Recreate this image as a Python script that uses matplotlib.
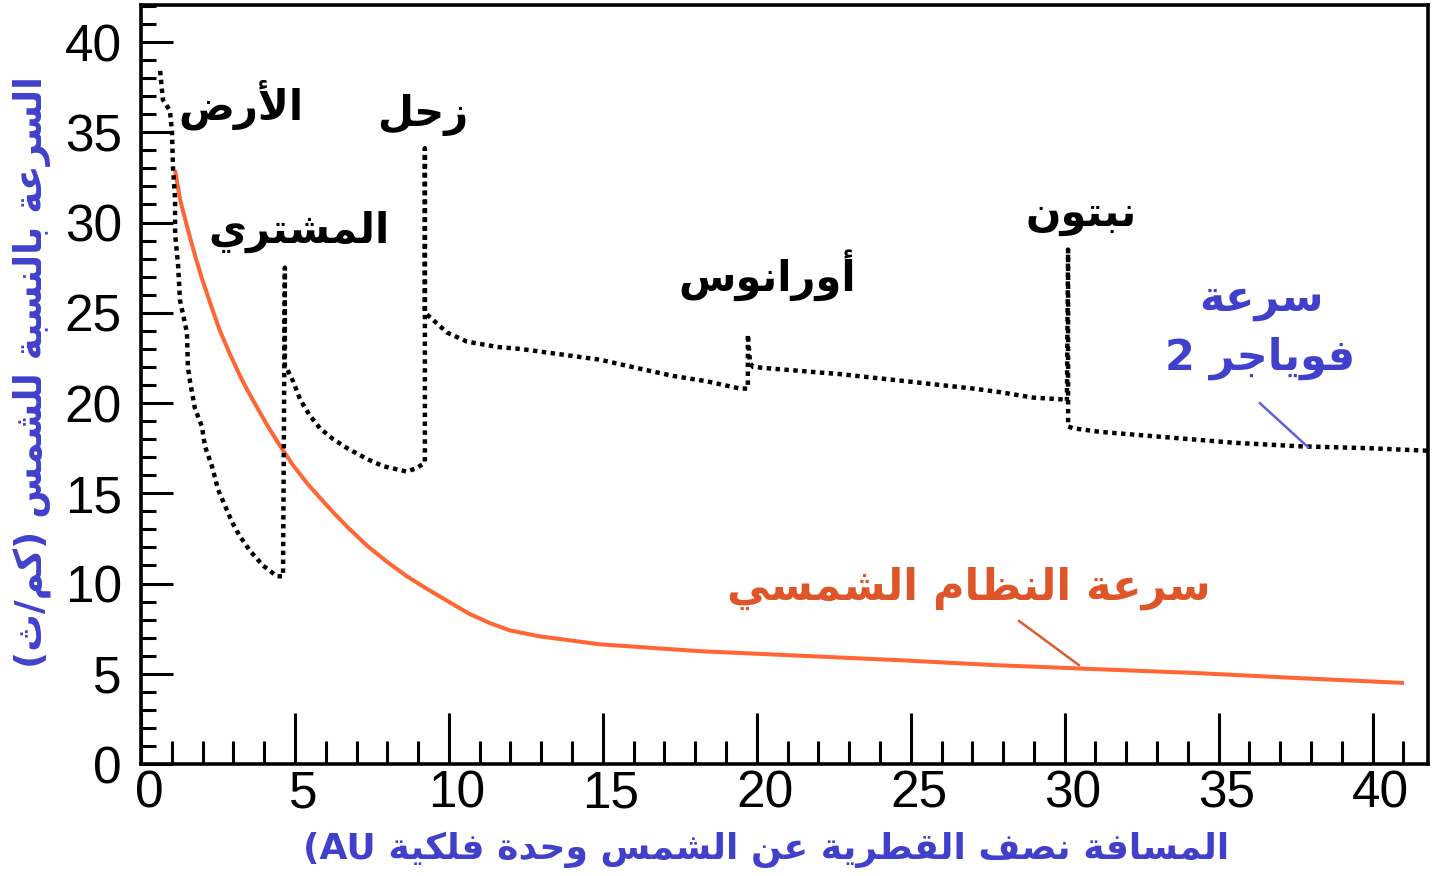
import matplotlib
matplotlib.use("Agg")
import matplotlib.pyplot as plt
from matplotlib.ticker import MultipleLocator, FixedLocator
import matplotlib.transforms as mtransforms

# ---------------- data ----------------
voyager_x = [0.621, 0.710, 0.938, 1.008, 1.037, 1.107, 1.107, 1.206, 1.265, 1.493, 1.523, 1.592, 1.751,
             1.978, 2.077, 2.305, 2.503, 2.731, 2.959, 3.217, 3.543, 3.960, 4.415, 4.613,
             4.673, 4.673, 4.742, 4.940, 5.168, 5.485, 5.812, 6.238, 6.693, 7.337, 7.862, 8.635, 8.962, 9.220,
             9.220, 9.220, 9.487, 9.943, 10.587, 11.597, 12.310, 14.906, 16.203, 17.283, 18.383, 19.452, 19.710,
             19.710, 19.780, 19.879, 20.523, 22.702, 24.881, 27.021, 27.902, 28.972, 29.943, 30.072,
             30.111, 30.111, 30.270, 31.151, 33.321, 35.471, 37.640, 39.819, 41.870]
voyager_y = [38.4, 36.8, 36.2, 35.0, 33.1, 31.3, 29.4, 27.6, 25.7, 23.9, 22.0, 21.2, 19.7,
             18.7, 17.6, 16.5, 15.2, 14.3, 13.4, 12.6, 11.8, 11.0, 10.4, 10.4,
             27.5, 22.0, 21.9, 21.2, 20.2, 19.3, 18.6, 18.0, 17.5, 16.9, 16.5, 16.2, 16.4, 16.7,
             34.1, 25.0, 24.6, 23.9, 23.4, 23.1, 23.0, 22.4, 21.9, 21.5, 21.2, 20.8, 20.8,
             23.8, 22.2, 22.0, 21.9, 21.6, 21.2, 20.8, 20.6, 20.3, 20.2, 20.1,
             28.5, 18.7, 18.6, 18.4, 18.1, 17.8, 17.6, 17.5, 17.35]

solar_x = [1.107, 1.265, 1.493, 1.651, 1.820, 1.978, 2.176, 2.335, 2.563, 2.890, 3.217, 3.444,
           3.771, 4.088, 4.415, 4.613, 4.940, 5.396, 5.812, 6.238, 6.693, 7.337, 7.991, 8.635,
           9.289, 10.032, 10.686, 11.340, 11.983, 12.954, 13.935, 14.906, 18.155, 21.404,
           24.653, 27.70, 30.95, 34.26, 37.58, 41.02]
solar_y = [32.9, 31.3, 29.8, 28.8, 27.8, 26.9, 25.9, 25.1, 24.0, 22.7, 21.5, 20.75,
           19.75, 18.8, 17.9, 17.38, 16.55, 15.55, 14.75, 13.95, 13.15, 12.1, 11.2, 10.4,
           9.7, 8.95, 8.3, 7.8, 7.4, 7.07, 6.85, 6.63, 6.25, 6.0,
           5.75, 5.48, 5.26, 5.04, 4.76, 4.49]

x_ticks = [0, 5, 10, 15, 20, 25, 30, 35, 40]
y_ticks = [0, 5, 10, 15, 20, 25, 30, 35, 40]

planet_names = ["الأرض", "المشتري", "زحل", "أورانوس", "نبتون"]
voyager_label_1 = "سرعة"
voyager_label_2 = "فوياجر"
solar_label = "سرعة النظام الشمسي"
ylabel_text = "السرعة بالنسبة للشمس (كم/ث)"
xlabel_main = "المسافة نصف القطرية عن الشمس"
xlabel_unit_1 = "وحدة"
xlabel_unit_2 = "فلكية"

# ---------------- Arabic shaping (presentation forms, visual order) ----------------
_F = {
    '\u0627': ('\uFE8D', '\uFE8E', None, None),
    '\u0623': ('\uFE83', '\uFE84', None, None),
    '\u0628': ('\uFE8F', '\uFE90', '\uFE91', '\uFE92'),
    '\u0629': ('\uFE93', '\uFE94', None, None),
    '\u062A': ('\uFE95', '\uFE96', '\uFE97', '\uFE98'),
    '\u062B': ('\uFE99', '\uFE9A', '\uFE9B', '\uFE9C'),
    '\u062C': ('\uFE9D', '\uFE9E', '\uFE9F', '\uFEA0'),
    '\u062D': ('\uFEA1', '\uFEA2', '\uFEA3', '\uFEA4'),
    '\u062F': ('\uFEA9', '\uFEAA', None, None),
    '\u0631': ('\uFEAD', '\uFEAE', None, None),
    '\u0632': ('\uFEAF', '\uFEB0', None, None),
    '\u0633': ('\uFEB1', '\uFEB2', '\uFEB3', '\uFEB4'),
    '\u0634': ('\uFEB5', '\uFEB6', '\uFEB7', '\uFEB8'),
    '\u0635': ('\uFEB9', '\uFEBA', '\uFEBB', '\uFEBC'),
    '\u0636': ('\uFEBD', '\uFEBE', '\uFEBF', '\uFEC0'),
    '\u0637': ('\uFEC1', '\uFEC2', '\uFEC3', '\uFEC4'),
    '\u0638': ('\uFEC5', '\uFEC6', '\uFEC7', '\uFEC8'),
    '\u0639': ('\uFEC9', '\uFECA', '\uFECB', '\uFECC'),
    '\u0641': ('\uFED1', '\uFED2', '\uFED3', '\uFED4'),
    '\u0642': ('\uFED5', '\uFED6', '\uFED7', '\uFED8'),
    '\u0643': ('\uFED9', '\uFEDA', '\uFEDB', '\uFEDC'),
    '\u0644': ('\uFEDD', '\uFEDE', '\uFEDF', '\uFEE0'),
    '\u0645': ('\uFEE1', '\uFEE2', '\uFEE3', '\uFEE4'),
    '\u0646': ('\uFEE5', '\uFEE6', '\uFEE7', '\uFEE8'),
    '\u0648': ('\uFEED', '\uFEEE', None, None),
    '\u064A': ('\uFEF1', '\uFEF2', '\uFEF3', '\uFEF4'),
}
_LAMALEF = {'\u0627': ('\uFEFB', '\uFEFC'), '\u0623': ('\uFEF7', '\uFEF8')}
_MIRROR = {'(': ')', ')': '('}


def _dual(c):
    return c in _F and _F[c][2] is not None


def _shape(s):
    out = []
    i, n = 0, len(s)
    while i < n:
        c = s[i]
        if c not in _F:
            out.append(c)
            i += 1
            continue
        jp = i > 0 and _dual(s[i - 1])
        if c == '\u0644' and i + 1 < n and s[i + 1] in _LAMALEF:
            out.append(_LAMALEF[s[i + 1]][1 if jp else 0])
            i += 2
            continue
        jn = _dual(c) and i + 1 < n and s[i + 1] in _F
        f = _F[c]
        if jp and jn:
            g = f[3]
        elif jp:
            g = f[1]
        elif jn:
            g = f[2]
        else:
            g = f[0]
        out.append(g)
        i += 1
    return ''.join(out)


def ar(s):
    return ''.join(_MIRROR.get(c, c) for c in reversed(_shape(s)))


# ---------------- figure ----------------
BLACK = "#000000"
ORANGE = "#FF6633"
ORANGE_TXT = "#DD5528"
BLUE = "#4040CC"
AR_FONT = ["DejaVu Sans"]

W, H = 1438, 876
L, R, B, T = 141, 1428, 764, 5
fig = plt.figure(figsize=(W / 100, H / 100), dpi=100)
ax = fig.add_axes([L / W, (H - B) / H, (R - L) / W, (B - T) / H])

ax.plot(solar_x, solar_y, color=ORANGE, lw=2.9, solid_capstyle="butt", zorder=3)
ax.plot(voyager_x, voyager_y, color=BLACK, lw=3.2, linestyle=(0, (1, 1)), zorder=4)

ax.set_xlim(0, 41.8)
ax.set_ylim(0, 42.05)

for s in ax.spines.values():
    s.set_linewidth(2.6)
    s.set_color(BLACK)

ax.xaxis.set_major_locator(FixedLocator(x_ticks))
ax.yaxis.set_major_locator(FixedLocator(y_ticks))
ax.xaxis.set_minor_locator(MultipleLocator(1))
ax.yaxis.set_minor_locator(MultipleLocator(1))
ax.set_xticklabels([str(v) for v in x_ticks])
ax.set_yticklabels([str(v) for v in y_ticks])

ax.tick_params(axis="x", which="major", direction="in", length=36.7, width=2.2,
               pad=4, labelsize=37, top=False)
ax.tick_params(axis="x", which="minor", direction="in", length=16.6, width=2.2, top=False)
ax.tick_params(axis="y", which="major", direction="in", length=23, width=2.2,
               pad=13.7, labelsize=37, right=False)
ax.tick_params(axis="y", which="minor", direction="in", length=10.8, width=2.2, right=False)

for lab in ax.get_xticklabels() + ax.get_yticklabels():
    lab.set_fontfamily(["Liberation Sans", "DejaVu Sans"])

offset = mtransforms.ScaledTranslation(5.8 / 72, 0, fig.dpi_scale_trans)
for lab in ax.get_xticklabels():
    lab.set_transform(lab.get_transform() + offset)

# planet labels
txt_kw = dict(ha="center", va="center", fontsize=30, fontweight="bold",
              family=AR_FONT, color=BLACK, zorder=5)
ax.text(3.25, 36.5, ar(planet_names[0]), **txt_kw)
ax.text(5.13, 29.5, ar(planet_names[1]), **txt_kw)
ax.text(9.16, 35.95, ar(planet_names[2]), **txt_kw)
ax.text(20.33, 27.1, ar(planet_names[3]), **txt_kw)
ax.text(30.53, 30.4, ar(planet_names[4]), **txt_kw)

# Voyager label (blue)
blue_kw = dict(ha="center", va="center", fontsize=31, fontweight="bold",
               family=AR_FONT, color=BLUE, zorder=5)
ax.text(36.38, 25.7, ar(voyager_label_1), **blue_kw)
ax.text(36.34, 22.5, "2 " + ar(voyager_label_2), **blue_kw)
ax.plot([36.34, 37.90], [19.99, 17.56], color="#6060D8", lw=1.8, zorder=5)

# Solar system label (orange)
ax.text(26.89, 9.75, ar(solar_label), ha="center", va="center", fontsize=31,
        fontweight="bold", family=AR_FONT, color=ORANGE_TXT, zorder=5)
ax.plot([28.52, 30.46], [7.92, 5.48], color="#E05A30", lw=1.8, zorder=5)

# axis labels
ax.set_ylabel(ar(ylabel_text), fontsize=27, fontweight="bold", family=AR_FONT,
              color=BLUE, va="center")
ax.yaxis.set_label_coords(-0.0847, 0.516)

xl = "(AU " + ar(xlabel_unit_2) + " " + ar(xlabel_unit_1) + " " + ar(xlabel_main)
ax.set_xlabel(xl, fontsize=26, fontweight="bold", family=AR_FONT, color=BLUE, va="center")
ax.xaxis.set_label_coords(0.486, -0.113)

fig.savefig("out.png", dpi=100)
